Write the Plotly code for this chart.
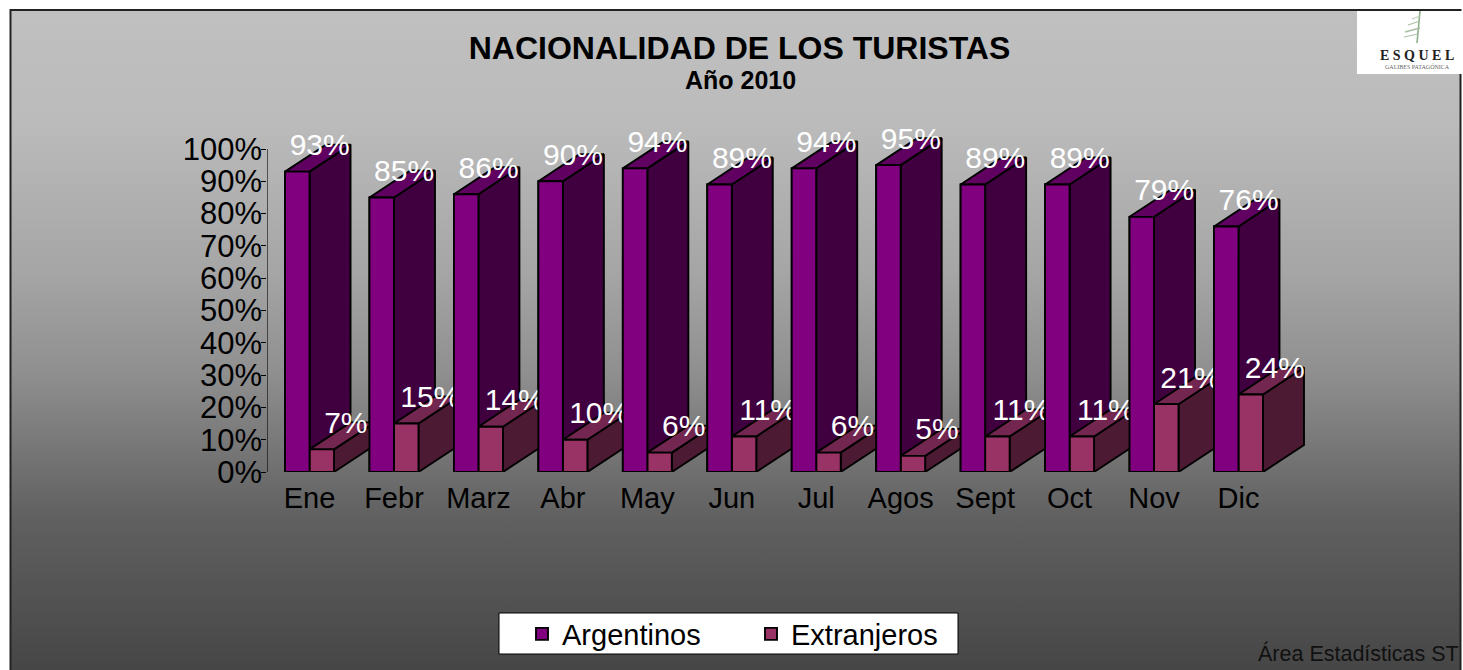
import base64
import plotly.graph_objects as go

# ---------- data ----------
months = ["Ene", "Febr", "Marz", "Abr", "May", "Jun", "Jul", "Agos", "Sept", "Oct", "Nov", "Dic"]
argentinos = [93, 85, 86, 90, 94, 89, 94, 95, 89, 89, 79, 76]
extranjeros = [7, 15, 14, 10, 6, 11, 6, 5, 11, 11, 21, 24]
y_ticks = [0, 10, 20, 30, 40, 50, 60, 70, 80, 90, 100]

# ---------- page geometry ----------
W, H = 1463, 670
FONT = "Liberation Sans"
X0 = 267.3
Y0, Y100 = 472.0, 149.0
SLOT = 84.45
PCT = (Y0 - Y100) / 100
X_MAX, Y_MAX = 12.2, 118      # axis ranges reach past the last month / 100 % for the 3D depth
X1 = X0 + (X_MAX + 0.5) * SLOT
YTOP = Y0 - Y_MAX * PCT
px = lambda v: v / W
py = lambda v: 1 - v / H

bar_w = 24.5 / SLOT
depth_x = 41 / SLOT
depth_y = 27 / PCT
label_lift = 7.4
EDGE = 1.9

AF, AT, AS = "#800080", "#600060", "#400040"
EF, ET, ES = "#993366", "#732650", "#4d1a33"


def faces(values, left_offset):
    """Front, top and side polygons of each 3D bar, built from the values."""
    front, top, side = ([], []), ([], []), ([], [])
    for i, v in enumerate(values):
        l = i + left_offset
        r = l + bar_w
        polys = [
            (front, [l, r, r, l, l], [0, 0, v, v, 0]),
            (top, [l, r, r + depth_x, l + depth_x, l], [v, v, v + depth_y, v + depth_y, v]),
            (side, [r, r + depth_x, r + depth_x, r, r], [0, depth_y, v + depth_y, v, 0]),
        ]
        for target, xs, ys in polys:
            target[0].extend(xs + [None])
            target[1].extend(ys + [None])
    return front, top, side


def poly(xy, color):
    return go.Scatter(
        x=xy[0], y=xy[1], mode="lines", fill="toself", fillcolor=color,
        line=dict(color="black", width=EDGE), showlegend=False,
        hoverinfo="skip", cliponaxis=False,
    )


def labels(values, x_offset):
    return go.Scatter(
        x=[i + x_offset for i in range(len(values))],
        y=[v + label_lift for v in values],
        text=[f"{v}%" for v in values],
        mode="text", textposition="middle center",
        textfont=dict(family=FONT, size=30, color="white"),
        showlegend=False, hoverinfo="skip", cliponaxis=False,
    )


a_front, a_top, a_side = faces(argentinos, -bar_w)
e_front, e_top, e_side = faces(extranjeros, 0)

fig = go.Figure()
fig.add_bar(x=list(range(12)), y=argentinos, name="Argentinos",
            marker=dict(color=AF, line=dict(color="black", width=EDGE)))
fig.add_bar(x=list(range(12)), y=extranjeros, name="Extranjeros",
            marker=dict(color=EF, line=dict(color="black", width=EDGE)))
fig.add_trace(poly(a_side, AS))
fig.add_trace(poly(a_top, AT))
fig.add_trace(poly(e_side, ES))
fig.add_trace(poly(e_top, ET))
fig.add_trace(poly(e_front, EF))
fig.add_trace(labels(extranjeros, 0.43))
fig.add_trace(poly(a_front, AF))
fig.add_trace(labels(argentinos, 0.12))

# vertical background gradient
stops = [(0, 192), (0.17, 187), (0.40, 165), (0.55, 143), (0.77, 96), (1, 70)]
stop_svg = "".join(
    f'<stop offset="{o}" stop-color="rgb({g},{g},{g})"/>' for o, g in stops
)
svg = (
    '<svg xmlns="http://www.w3.org/2000/svg" width="100" height="100" preserveAspectRatio="none">'
    f'<defs><linearGradient id="g" x1="0" y1="0" x2="0" y2="1">{stop_svg}</linearGradient></defs>'
    '<rect width="100" height="100" fill="url(#g)"/></svg>'
)
bg_uri = "data:image/svg+xml;base64," + base64.b64encode(svg.encode()).decode()

shapes = [
    # y axis line, stops at 100 %
    dict(type="line", xref="x", yref="y", x0=-0.5, x1=-0.5, y0=0, y1=100,
         line=dict(color="black", width=1), layer="above"),
    # outer frame
    dict(type="rect", xref="paper", yref="paper", x0=px(10.5), x1=px(1460.5), y0=py(671), y1=py(10),
         line=dict(color="#222222", width=2), layer="above"),
    # logo panel
    dict(type="rect", xref="paper", yref="paper", x0=px(1357), x1=px(1463), y0=py(74), y1=py(11),
         fillcolor="white", line=dict(width=0), layer="above"),
    # legend panel
    dict(type="rect", xref="paper", yref="paper", x0=px(499), x1=px(958), y0=py(654), y1=py(613),
         fillcolor="white", line=dict(color="black", width=1), layer="above"),
]
# logo tree
for (xa, ya, xb, yb, c, w) in [
    (1420, 11, 1417, 43, "#8fae8b", 1.6),
    (1405, 32, 1420, 28, "#a9bfa4", 1.4),
    (1408, 25, 1420, 21, "#a9bfa4", 1.2),
    (1412, 19, 1420, 16, "#b5c7b0", 1.0),
    (1404, 37, 1418, 34, "#a9bfa4", 1.0),
]:
    shapes.append(dict(type="line", xref="paper", yref="paper", x0=px(xa), x1=px(xb), y0=py(ya), y1=py(yb),
                       line=dict(color=c, width=w), layer="above"))

annotations = [
    dict(text="<b>Año 2010</b>", x=px(740), y=py(80), xref="paper", yref="paper", showarrow=False,
         font=dict(family=FONT, size=25, color="black"), xanchor="center", yanchor="middle"),
    dict(text="Área Estadísticas ST", x=px(1256), y=py(653), xref="paper", yref="paper", showarrow=False,
         font=dict(family=FONT, size=21.5, color="#111111"), xanchor="left", yanchor="middle"),
    dict(text="<b>E S Q U E L</b>", x=px(1417), y=py(55), xref="paper", yref="paper", showarrow=False,
         font=dict(family="Liberation Serif", size=14, color="#222222"), xanchor="center", yanchor="middle"),
    dict(text="GALIBES PATAGÓNICA", x=px(1417), y=py(67), xref="paper", yref="paper", showarrow=False,
         font=dict(family="Liberation Serif", size=6, color="#666666"), xanchor="center", yanchor="middle"),
]

fig.update_layout(
    width=W, height=H, margin=dict(l=0, r=0, t=0, b=0, autoexpand=False),
    paper_bgcolor="white", plot_bgcolor="rgba(0,0,0,0)",
    barmode="group", bargap=1 - 2 * bar_w, bargroupgap=0,
    title=dict(text="<b>NACIONALIDAD DE LOS TURISTAS</b>", x=px(739.5), xanchor="center",
               y=py(48), yanchor="middle", font=dict(family=FONT, size=32, color="black")),
    font=dict(family=FONT, color="black"),
    xaxis=dict(domain=[px(X0), px(X1)], range=[-0.5, X_MAX], tickmode="array",
               tickvals=list(range(12)), ticktext=months, showgrid=False, zeroline=False,
               showline=False, ticks="", tickfont=dict(family=FONT, size=29, color="black"),
               ticklabelstandoff=6),
    yaxis=dict(domain=[py(Y0), py(YTOP)], range=[0, Y_MAX], tickmode="array", tickvals=y_ticks,
               ticktext=[f"{t}%" for t in y_ticks], showgrid=False, zeroline=False, showline=False,
               ticks="outside", ticklen=5, tickcolor="black", ticklabelstandoff=-7,
               tickfont=dict(family=FONT, size=31, color="black")),
    legend=dict(orientation="h", x=px(522), y=py(634), xanchor="left", yanchor="middle",
                bgcolor="rgba(0,0,0,0)", borderwidth=0, font=dict(family=FONT, size=29, color="black"),
                entrywidthmode="pixels", entrywidth=184, itemwidth=30),
    images=[dict(source=bg_uri, xref="paper", yref="paper", x=px(10.5), y=py(10), sizex=px(1450), sizey=660 / H,
                 sizing="stretch", layer="below", xanchor="left", yanchor="top")],
    shapes=shapes,
    annotations=annotations,
)

fig.write_html("out.html", config=dict(displayModeBar=False),
               post_script="document.body.style.margin='0';document.body.style.overflow='hidden';")
